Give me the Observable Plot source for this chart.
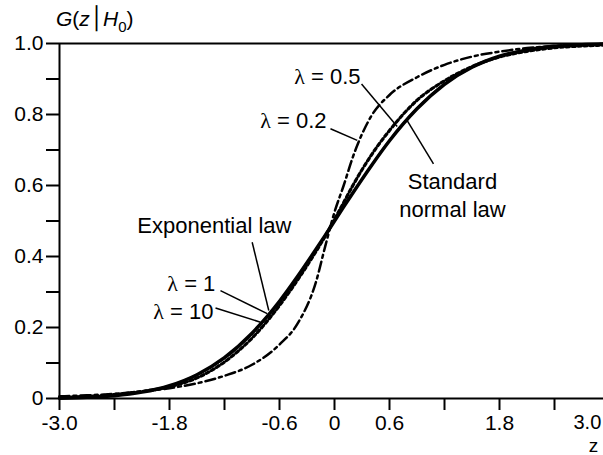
<!DOCTYPE html>
<html><head><meta charset="utf-8">
<script src="https://cdn.jsdelivr.net/npm/d3@7"></script>
<script src="https://cdn.jsdelivr.net/npm/@observablehq/plot@0.6"></script>
<style>
html,body{margin:0;padding:0;background:#fff;overflow:hidden;width:603px;height:455px}
#chart{position:relative;width:603px;height:455px;overflow:hidden}
</style></head><body><div id="chart"></div>
<script>
// ---- data ----
const zGrid = [-3, -2.7, -2.4, -2.1, -1.8, -1.5, -1.2, -0.9, -0.6, -0.4, -0.2, -0.1, 0, 0.1, 0.2, 0.4, 0.6, 0.9, 1.2, 1.5, 1.8, 2.1, 2.4, 2.7, 3.0];
const normalLaw = [0.001, 0.0035, 0.008, 0.018, 0.036, 0.067, 0.115, 0.184, 0.274, 0.345, 0.421, 0.46, 0.5, 0.54, 0.579, 0.655, 0.726, 0.816, 0.885, 0.933, 0.964, 0.982, 0.992, 0.9965, 0.999];
const lambda02 = [0.006, 0.009, 0.013, 0.02, 0.029, 0.043, 0.064, 0.095, 0.152, 0.212, 0.33, 0.43, 0.525, 0.60, 0.68, 0.795, 0.855, 0.905, 0.94, 0.963, 0.977, 0.987, 0.993, 0.997, 0.999];
const lambda05 = [0.003, 0.006, 0.011, 0.02, 0.033, 0.058, 0.103, 0.17, 0.262, 0.335, 0.415, 0.458, 0.505, 0.552, 0.6, 0.685, 0.755, 0.84, 0.895, 0.935, 0.962, 0.978, 0.988, 0.993, 0.996];
const lambda1 = [0.002, 0.004, 0.009, 0.019, 0.036, 0.066, 0.113, 0.182, 0.272, 0.344, 0.421, 0.46, 0.5, 0.54, 0.579, 0.656, 0.728, 0.818, 0.887, 0.934, 0.964, 0.981, 0.991, 0.996, 0.998];
const lambda10 = [0.0015, 0.0038, 0.0085, 0.0185, 0.0365, 0.0675, 0.1155, 0.1845, 0.2745, 0.345, 0.421, 0.46, 0.5, 0.54, 0.579, 0.655, 0.7255, 0.8155, 0.8845, 0.9325, 0.9635, 0.9815, 0.9915, 0.996, 0.9985];

const xTickValues = [-3, -2.4, -1.8, -1.2, -0.6, 0, 0.6, 1.2, 1.8, 2.4, 3];
const xTickLabels = ["-3.0", "", "-1.8", "", "-0.6", "0", "0.6", "", "1.8", "", ""];
const yTickValues = [0, 0.1, 0.2, 0.3, 0.4, 0.5, 0.6, 0.7, 0.8, 0.9, 1.0];
const yTickLabels = ["0", "", "0.2", "", "0.4", "", "0.6", "", "0.8", "", "1.0"];

// annotation labels (text, z, G at baseline) and leader lines
const labelTexts = ["Exponential law", "λ = 1", "λ = 10", "λ = 0.5", "λ = 0.2", "Standard\nnormal law"];
const labelZ = [-1.31, -1.30, -1.32, 0.284, -0.087, 1.287];
const labelG = [0.465, 0.304, 0.225, 0.887, 0.761, 0.511];
const labelAnchor = ["middle", "end", "end", "end", "end", "middle"];
const leaderZ1 = [-0.898, -1.244, -1.298, 0.295, -0.044, 1.08];
const leaderG1 = [0.440, 0.304, 0.255, 0.886, 0.760, 0.661];
const leaderZ2 = [-0.717, -0.734, -0.807, 0.684, 0.248, 0.793];
const leaderG2 = [0.248, 0.239, 0.215, 0.766, 0.727, 0.783];

// ---- build tables ----
const toRows = vals => zGrid.map((z, i) => ({z, g: vals[i]}));
const labels = labelTexts.map((t, i) => ({t, z: labelZ[i], g: labelG[i], a: labelAnchor[i]}));
const leaders = leaderZ1.map((z, i) => ({z1: z, g1: leaderG1[i], z2: leaderZ2[i], g2: leaderG2[i]}));
const xLab = new Map(xTickValues.map((v, i) => [v, xTickLabels[i]]));
const yLab = new Map(yTickValues.map((v, i) => [v, yTickLabels[i]]));

const FONT = "'Liberation Sans', Arial, Helvetica, sans-serif";
const labelOpts = anchor => ({x: "z", y: "g", text: "t", textAnchor: anchor, lineAnchor: "bottom", lineHeight: 1.27, fontSize: 22, fill: "#000"});

const plot = Plot.plot({
  width: 610,
  height: 455,
  marginLeft: 59,
  marginRight: 1,
  marginTop: 43,
  marginBottom: 57,
  x: {domain: [-3, 3]},
  y: {domain: [0, 1]},
  style: {fontFamily: FONT, fontSize: "21px", color: "#000", background: "#fff", maxWidth: "none", overflow: "visible"},
  marks: [
    Plot.axisX(xTickValues, {tickSize: 12, tickPadding: 5, strokeWidth: 2, tickFormat: d => xLab.get(d), label: null, fontSize: 21}),
    Plot.axisY(yTickValues, {tickSize: 13, tickPadding: 3, strokeWidth: 2, tickFormat: d => yLab.get(d), label: null, fontSize: 21}),
    Plot.ruleY([0], {stroke: "#000", strokeWidth: 2}),
    Plot.ruleY([1], {stroke: "#000", strokeWidth: 2}),
    Plot.ruleX([-3], {stroke: "#000", strokeWidth: 2}),
    Plot.line(toRows(lambda1), {x: "z", y: "g", stroke: "#000", strokeWidth: 1.5, curve: "monotone-x"}),
    Plot.line(toRows(lambda10), {x: "z", y: "g", stroke: "#000", strokeWidth: 1.5, curve: "monotone-x"}),
    Plot.line(toRows(normalLaw), {x: "z", y: "g", stroke: "#000", strokeWidth: 3.5, curve: "monotone-x"}),
    Plot.line(toRows(lambda05), {x: "z", y: "g", stroke: "#000", strokeWidth: 3.2, strokeDasharray: "3,3", curve: "monotone-x"}),
    Plot.line(toRows(lambda02), {x: "z", y: "g", stroke: "#000", strokeWidth: 2.5, strokeDasharray: "10,4,3,4", curve: "monotone-x"}),
    Plot.link(leaders, {x1: "z1", y1: "g1", x2: "z2", y2: "g2", stroke: "#000", strokeWidth: 1.5}),
    Plot.text(labels.filter(d => d.a === "middle"), labelOpts("middle")),
    Plot.text(labels.filter(d => d.a === "end"), labelOpts("end")),
    Plot.text([{z: 3, g: 0, t: "3.0"}], {x: "z", y: "g", text: "t", textAnchor: "start", lineAnchor: "top", dx: -36, dy: 16, fontSize: 20, fill: "#000"}),
    Plot.text([{z: 3, g: 0, t: "z"}], {x: "z", y: "g", text: "t", textAnchor: "middle", lineAnchor: "bottom", dx: -16, dy: 53, fontSize: 19, fill: "#000"})
  ]
});
document.getElementById("chart").append(plot);

const svg = d3.select(plot);
// serif lambda like the reference
svg.selectAll("text").each(function() {
  const el = d3.select(this);
  if (this.childElementCount === 0 && this.textContent.startsWith("λ")) {
    const rest = this.textContent.slice(1);
    el.text(null);
    el.append("tspan").attr("font-family", "'Liberation Serif', 'DejaVu Serif', serif").text("λ");
    el.append("tspan").text(rest);
  }
});

// y-axis title G(z|H0)
const title = svg.append("text").attr("x", 56).attr("y", 26).attr("text-anchor", "start")
  .attr("font-family", FONT).attr("font-size", 21).attr("fill", "#000");
title.append("tspan").attr("font-style", "italic").text("G");
title.append("tspan").text("(");
title.append("tspan").attr("font-style", "italic").text("z");
title.append("tspan").attr("font-family", "DejaVu Sans").attr("font-size", 22).text("│");
title.append("tspan").attr("font-style", "italic").text("H");
title.append("tspan").attr("font-size", 15).attr("dy", 6).text("0");
title.append("tspan").attr("dy", -6).text(")");
</script>
</body></html>
